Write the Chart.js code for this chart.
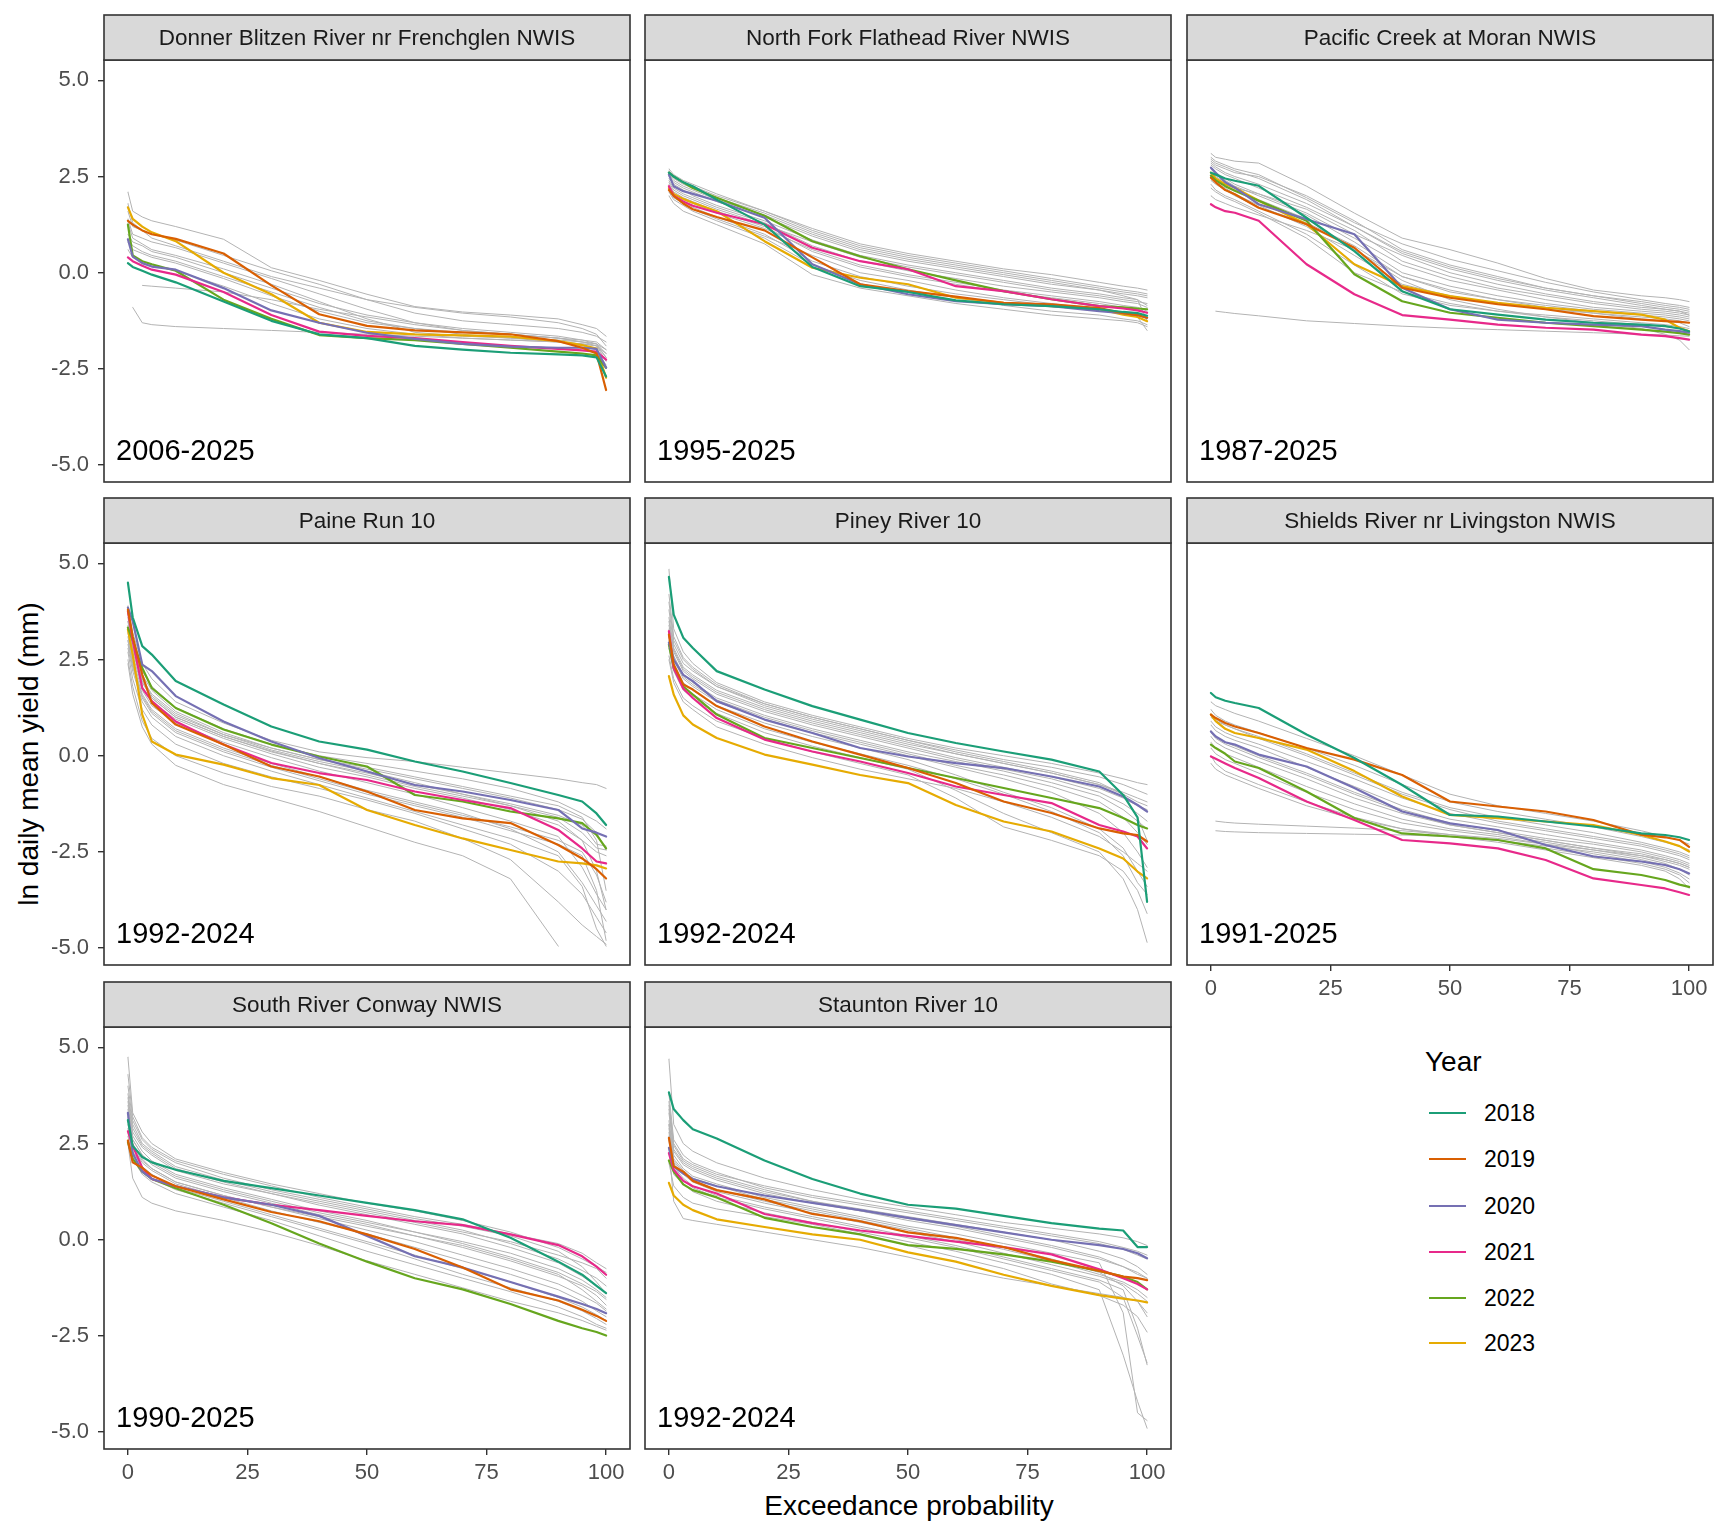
<!DOCTYPE html>
<html>
<head>
<meta charset="utf-8">
<title>Flow duration curves by site</title>
<script src="https://cdn.jsdelivr.net/npm/chart.js@4.4.1/dist/chart.umd.min.js"></script>
<style>
  html, body { margin: 0; padding: 0; background: #fff; }
  #figure { position: relative; width: 1728px; height: 1536px; background: #fff; overflow: hidden;
            font-family: 'Liberation Sans', Arial, sans-serif; }
  .panel { position: absolute; }
  .axis-title { position: absolute; font-size: 28px; color: #000; white-space: nowrap; line-height: 1; }
  #ytitle { left: 29px; top: 754px; transform: translate(-50%, -50%) rotate(-90deg); }
  #xtitle { left: 909px; top: 1506px; transform: translate(-50%, -50%); }
  .leg-title { position: absolute; font-size: 28px; color: #000; line-height: 1; transform: translateY(-50%); }
  .leg-key { position: absolute; height: 2px; width: 37px; }
  .leg-label { position: absolute; font-size: 23px; color: #000; line-height: 1; transform: translateY(-50%); }
</style>
</head>
<body>
<div id="figure">
  <div class="axis-title" id="ytitle">ln daily mean yield (mm)</div>
  <div class="axis-title" id="xtitle">Exceedance probability</div>
</div>
<script>
// x positions (exceedance probability, %) shared by every curve
const exceedance = [0, 1, 3, 5, 10, 20, 30, 40, 50, 60, 70, 80, 90, 95, 98, 100];
const years = ['2018', '2019', '2020', '2021', '2022', '2023'];
const yearColors = ['#1B9E77', '#D95F02', '#7570B3', '#E7298A', '#66A61E', '#E6AB02'];
const xTicks = [0, 25, 50, 75, 100];
const yTicks = [-5, -2.5, 0, 2.5, 5];

const siteNames = ['Donner Blitzen River nr Frenchglen NWIS', 'North Fork Flathead River NWIS', 'Pacific Creek at Moran NWIS',
  'Paine Run 10', 'Piney River 10', 'Shields River nr Livingston NWIS', 'South River Conway NWIS', 'Staunton River 10'];
const siteRanges = ['2006-2025', '1995-2025', '1987-2025', '1992-2024', '1992-2024', '1991-2025', '1990-2025', '1992-2024'];

// highlighted years, one row per year 2018..2023 (null = no record)
const donnerYears = [
  [0.25, 0.15, 0.05, -0.05, -0.25, -0.75, -1.25, -1.6, -1.7, -1.9, -2.0, -2.08, -2.12, -2.15, -2.2, -2.7],
  [1.35, 1.25, 1.1, 1.0, 0.88, 0.5, -0.33, -1.08, -1.38, -1.5, -1.55, -1.6, -1.78, -1.95, -2.1, -3.05],
  [0.87, 0.42, 0.25, 0.16, 0.08, -0.4, -0.98, -1.3, -1.56, -1.72, -1.85, -1.92, -1.95, -1.95, -1.98, -2.47],
  [0.4, 0.3, 0.18, 0.08, -0.05, -0.5, -1.1, -1.53, -1.64, -1.7, -1.8, -1.9, -1.98, -2.02, -2.05, -2.26],
  [1.25, 0.45, 0.3, 0.22, 0.05, -0.7, -1.2, -1.62, -1.7, -1.75, -1.85, -1.95, -2.05, -2.1, -2.15, -2.47],
  [1.7, 1.4, 1.2, 1.05, 0.82, 0.0, -0.56, -1.3, -1.54, -1.6, -1.63, -1.66, -1.78, -1.88, -1.97, -2.73]
];
const donnerOther = [
  [2.1, 1.6, 1.45, 1.35, 1.2, 0.87, 0.13, -0.2, -0.56, -0.88, -1.02, -1.1, -1.2, -1.35, -1.45, -1.65],
  [1.6, 1.2, 1.1, 1.0, 0.85, 0.45, 0.05, -0.3, -0.7, -1.05, -1.25, -1.35, -1.45, -1.55, -1.65, -1.8],
  [1.0, 0.8, 0.7, 0.55, 0.4, 0.0, -0.4, -0.8, -1.1, -1.3, -1.45, -1.55, -1.65, -1.75, -1.85, -2.1],
  [0.8, 0.6, 0.5, 0.4, 0.25, -0.15, -0.6, -1.0, -1.3, -1.45, -1.6, -1.7, -1.8, -1.85, -1.9, -2.3],
  [1.3, 0.9, 0.75, 0.6, 0.45, 0.1, -0.3, -0.75, -1.2, -1.55, -1.65, -1.7, -1.75, -1.8, -1.85, -2.2],
  [0.6, 0.4, 0.3, 0.2, 0.05, -0.35, -0.8, -1.2, -1.45, -1.6, -1.7, -1.75, -1.8, -1.9, -2.0, -2.4],
  [null, null, -0.33, -0.35, -0.4, -0.5, -0.7, -0.95, -1.15, -1.35, -1.5, -1.6, -1.7, -1.8, -1.85, -2.0],
  [null, -0.9, -1.3, -1.35, -1.4, -1.45, -1.5, -1.55, -1.6, -1.65, -1.7, -1.75, -1.8, -1.85, -1.9, -2.1],
  [1.8, 1.3, 1.1, 0.9, 0.7, 0.3, -0.1, -0.4, -0.7, -0.9, -1.05, -1.15, -1.3, -1.45, -1.6, -1.9],
  [1.4, 1.0, 0.9, 0.8, 0.65, 0.25, -0.15, -0.55, -0.95, -1.3, -1.5, -1.6, -1.7, -1.75, -1.8, -2.0],
  [0.9, 0.7, 0.55, 0.45, 0.3, -0.1, -0.5, -0.9, -1.25, -1.45, -1.55, -1.6, -1.7, -1.8, -1.9, -2.2]
];

const northForkYears = [
  [2.6, 2.5, 2.35, 2.25, 1.9, 1.25, 0.15, -0.35, -0.5, -0.72, -0.82, -0.87, -0.95, -1.02, -1.05, -1.12],
  [2.15, 2.0, 1.8, 1.65, 1.45, 1.1, 0.4, -0.3, -0.48, -0.62, -0.78, -0.82, -0.92, -1.05, -1.1, -1.17],
  [2.55, 2.25, 2.12, 2.05, 1.87, 1.43, 0.22, -0.3, -0.56, -0.74, -0.82, -0.87, -1.0, -1.05, -1.1, -1.17],
  [2.25, 2.0, 1.85, 1.74, 1.56, 1.26, 0.65, 0.3, 0.09, -0.35, -0.48, -0.69, -0.87, -0.93, -0.98, -1.04],
  [2.6, 2.5, 2.35, 2.2, 1.95, 1.48, 0.82, 0.43, 0.09, -0.2, -0.48, -0.69, -0.87, -0.9, -0.93, -0.95],
  [2.2, 2.05, 1.92, 1.82, 1.6, 0.82, 0.13, -0.13, -0.3, -0.65, -0.78, -0.87, -0.95, -1.09, -1.15, -1.26]
];
const northForkOther = [
  [2.7, 2.55, 2.4, 2.3, 2.05, 1.6, 1.15, 0.75, 0.5, 0.3, 0.1, -0.05, -0.25, -0.35, -0.4, -0.45],
  [2.5, 2.35, 2.2, 2.1, 1.85, 1.45, 0.95, 0.55, 0.3, 0.1, -0.1, -0.3, -0.45, -0.55, -0.6, -0.65],
  [2.4, 2.2, 2.05, 1.95, 1.7, 1.3, 0.7, 0.3, 0.05, -0.15, -0.35, -0.5, -0.65, -0.75, -0.8, -0.9],
  [2.3, 2.1, 1.95, 1.85, 1.6, 1.2, 0.55, 0.15, -0.1, -0.3, -0.5, -0.65, -0.8, -0.9, -0.95, -1.05],
  [2.2, 2.0, 1.85, 1.7, 1.45, 1.0, 0.3, -0.1, -0.35, -0.55, -0.7, -0.85, -0.95, -1.05, -1.1, -1.2],
  [2.0, 1.8, 1.6, 1.5, 1.25, 0.75, -0.05, -0.4, -0.6, -0.8, -0.95, -1.1, -1.2, -1.25, -1.3, -1.4],
  [2.6, 2.45, 2.3, 2.2, 1.95, 1.55, 1.05, 0.65, 0.4, 0.2, 0.0, -0.2, -0.4, -0.5, -0.55, -0.6],
  [2.15, 1.95, 1.8, 1.65, 1.4, 0.95, 0.45, 0.0, -0.2, -0.45, -0.65, -0.8, -0.95, -1.05, -1.15, -1.5],
  [2.35, 2.15, 2.0, 1.9, 1.65, 1.25, 0.8, 0.4, 0.15, -0.05, -0.25, -0.45, -0.6, -0.7, -0.75, -0.8],
  [2.45, 2.3, 2.15, 2.0, 1.75, 1.35, 0.85, 0.45, 0.2, 0.0, -0.2, -0.4, -0.55, -0.65, -0.7, -1.25],
  [2.55, 2.4, 2.25, 2.15, 1.9, 1.5, 1.0, 0.6, 0.35, 0.15, -0.05, -0.25, -0.45, -0.6, -0.7, -0.85],
  [2.25, 2.05, 1.9, 1.8, 1.55, 1.15, 0.6, 0.2, -0.05, -0.25, -0.45, -0.6, -0.75, -0.85, -0.9, -1.0],
  [2.1, 1.9, 1.75, 1.6, 1.35, 0.9, 0.2, -0.2, -0.45, -0.65, -0.85, -1.0, -1.1, -1.2, -1.25, -1.35],
  [2.65, 2.5, 2.35, 2.25, 2.0, 1.6, 1.1, 0.7, 0.45, 0.25, 0.05, -0.15, -0.35, -0.45, -0.5, -0.55]
];

const pacificYears = [
  [2.6, 2.55, 2.45, 2.39, 2.26, 1.43, 0.56, -0.48, -0.95, -1.09, -1.22, -1.3, -1.35, -1.39, -1.45, -1.52],
  [2.47, 2.35, 2.15, 2.04, 1.69, 1.26, 0.65, -0.39, -0.65, -0.82, -0.95, -1.13, -1.22, -1.26, -1.28, -1.3],
  [2.73, 2.6, 2.35, 2.21, 1.78, 1.39, 1.0, -0.39, -0.95, -1.22, -1.3, -1.35, -1.39, -1.48, -1.52, -1.56],
  [1.78, 1.7, 1.6, 1.56, 1.35, 0.22, -0.56, -1.1, -1.22, -1.35, -1.43, -1.48, -1.61, -1.65, -1.7, -1.74],
  [2.52, 2.4, 2.25, 2.13, 1.87, 1.35, -0.04, -0.74, -1.04, -1.17, -1.3, -1.39, -1.48, -1.53, -1.57, -1.61],
  [2.6, 2.45, 2.3, 2.21, 1.87, 1.26, 0.22, -0.35, -0.61, -0.78, -0.91, -1.0, -1.09, -1.22, -1.43, -1.52]
];
const pacificOther = [
  [3.1, 3.0, 2.95, 2.9, 2.85, 2.25, 1.55, 0.9, 0.6, 0.25, -0.15, -0.45, -0.6, -0.65, -0.7, -0.75],
  [2.9, 2.8, 2.7, 2.6, 2.5, 2.0, 1.35, 0.6, 0.2, -0.1, -0.4, -0.6, -0.8, -0.9, -0.95, -1.0],
  [2.8, 2.7, 2.55, 2.45, 2.2, 1.7, 1.1, 0.3, -0.1, -0.4, -0.6, -0.8, -0.95, -1.0, -1.05, -1.1],
  [2.7, 2.55, 2.4, 2.25, 2.0, 1.5, 0.8, 0.0, -0.35, -0.6, -0.8, -0.95, -1.05, -1.1, -1.15, -1.2],
  [2.5, 2.35, 2.2, 2.05, 1.75, 1.2, 0.45, -0.3, -0.6, -0.8, -0.95, -1.05, -1.15, -1.2, -1.25, -1.3],
  [2.3, 2.15, 2.0, 1.9, 1.6, 1.0, 0.2, -0.55, -0.85, -1.0, -1.1, -1.2, -1.3, -1.35, -1.4, -1.45],
  [2.0, 1.9, 1.8, 1.7, 1.5, 1.1, 0.6, -0.2, -0.7, -0.95, -1.15, -1.3, -1.45, -1.6, -1.75, -2.0],
  [null, -1.0, -1.03, -1.06, -1.12, -1.25, -1.32, -1.39, -1.44, -1.48, -1.52, -1.56, -1.6, -1.62, -1.64, -1.65],
  [2.6, 2.5, 2.35, 2.2, 2.05, 1.65, 1.0, 0.45, 0.0, -0.3, -0.55, -0.75, -0.9, -0.95, -1.0, -1.1],
  [2.2, 2.1, 1.95, 1.85, 1.55, 0.9, 0.0, -0.5, -0.8, -1.0, -1.15, -1.25, -1.35, -1.4, -1.45, -1.55],
  [3.0, 2.9, 2.8, 2.7, 2.55, 1.95, 1.3, 0.75, 0.35, 0.05, -0.25, -0.5, -0.7, -0.8, -0.85, -0.9],
  [2.75, 2.6, 2.45, 2.3, 2.05, 1.55, 0.9, 0.2, -0.2, -0.45, -0.7, -0.9, -1.0, -1.05, -1.1, -1.15],
  [2.4, 2.3, 2.15, 2.0, 1.7, 1.3, 0.7, -0.1, -0.5, -0.7, -0.85, -1.0, -1.1, -1.15, -1.2, -1.25],
  [2.85, 2.75, 2.6, 2.5, 2.3, 1.8, 1.2, 0.5, 0.1, -0.2, -0.45, -0.65, -0.85, -0.95, -1.0, -1.05],
  [2.55, 2.4, 2.25, 2.15, 1.9, 1.4, 0.6, -0.1, -0.45, -0.7, -0.9, -1.05, -1.2, -1.25, -1.3, -1.4],
  [2.95, 2.85, 2.75, 2.65, 2.45, 1.9, 1.2, 0.55, 0.15, -0.15, -0.4, -0.6, -0.75, -0.85, -0.9, -0.95]
];

const paineYears = [
  [4.5, 3.6, 2.85, 2.63, 1.94, 1.33, 0.76, 0.37, 0.16, -0.15, -0.41, -0.71, -1.02, -1.19, -1.5, -1.8],
  [3.8, 3.1, 2.11, 1.37, 0.81, 0.29, -0.28, -0.54, -0.93, -1.41, -1.63, -1.75, -2.32, -2.67, -2.95, -3.19],
  [3.85, 3.5, 2.37, 2.2, 1.55, 0.89, 0.37, -0.06, -0.41, -0.76, -0.93, -1.15, -1.41, -1.89, -2.0, -2.1],
  [3.76, 3.0, 1.76, 1.42, 0.89, 0.29, -0.19, -0.45, -0.63, -0.93, -1.15, -1.36, -1.93, -2.41, -2.75, -2.8],
  [3.33, 3.0, 2.28, 1.76, 1.24, 0.68, 0.29, -0.02, -0.28, -1.02, -1.19, -1.45, -1.63, -1.75, -2.06, -2.41],
  [3.28, 2.63, 1.07, 0.37, 0.03, -0.23, -0.58, -0.76, -1.41, -1.8, -2.15, -2.45, -2.75, -2.8, -2.85, -2.93]
];
const paineOther = [
  [3.9, 3.2, 2.4, 2.0, 1.4, 0.85, 0.4, 0.1, -0.05, -0.15, -0.3, -0.45, -0.6, -0.7, -0.75, -0.85],
  [3.5, 2.9, 2.2, 1.8, 1.25, 0.7, 0.3, 0.0, -0.2, -0.4, -0.6, -0.85, -1.2, -1.5, -1.7, -1.9],
  [3.2, 2.6, 1.8, 1.4, 0.95, 0.45, 0.05, -0.3, -0.55, -0.85, -1.1, -1.4, -1.8, -2.2, -2.5, -2.6],
  [3.0, 2.4, 1.6, 1.2, 0.7, 0.2, -0.2, -0.55, -0.9, -1.2, -1.5, -1.9, -2.5, -3.3, -3.9, -4.3],
  [2.7, 2.0, 1.2, 0.8, 0.3, -0.2, -0.55, -0.85, -1.15, -1.5, -1.9, -2.3, -3.0, -3.6, -4.2, -4.6],
  [2.5, 1.8, 0.9, 0.45, 0.0, -0.45, -0.8, -1.05, -1.4, -1.7, -2.15, -2.7, -3.8, -4.4, -4.7, -4.9],
  [2.4, 1.6, 0.75, 0.3, -0.25, -0.75, -1.1, -1.45, -1.85, -2.25, -2.6, -3.2, -4.95, null, null, null],
  [3.6, 2.9, 2.0, 1.6, 1.1, 0.55, 0.15, -0.15, -0.4, -0.7, -1.0, -1.3, -1.7, -2.2, -3.0, -4.0],
  [3.3, 2.7, 1.9, 1.5, 1.0, 0.5, 0.1, -0.2, -0.5, -0.8, -1.05, -1.3, -1.6, -2.0, -2.4, -2.45],
  [2.9, 2.3, 1.5, 1.1, 0.6, 0.1, -0.3, -0.65, -1.0, -1.3, -1.6, -1.95, -2.3, -2.6, -3.5, -4.8],
  [3.4, 2.8, 2.0, 1.55, 1.05, 0.55, 0.2, -0.1, -0.35, -0.6, -0.85, -1.1, -1.4, -1.65, -2.0, -2.45],
  [3.1, 2.5, 1.7, 1.3, 0.85, 0.35, -0.05, -0.4, -0.7, -1.0, -1.35, -1.7, -2.1, -2.9, -3.6, -4.0],
  [3.7, 3.0, 2.1, 1.7, 1.15, 0.6, 0.2, -0.1, -0.3, -0.55, -0.8, -1.05, -1.3, -1.6, -2.2, -3.5],
  [2.8, 2.2, 1.4, 1.0, 0.5, 0.0, -0.4, -0.75, -1.1, -1.45, -1.8, -2.15, -2.6, -3.4, -4.5, -4.95],
  [3.5, 2.8, 1.95, 1.5, 1.0, 0.5, 0.12, -0.2, -0.45, -0.75, -1.0, -1.25, -1.55, -1.8, -2.3, -2.35],
  [3.0, 2.35, 1.55, 1.15, 0.65, 0.15, -0.25, -0.6, -0.95, -1.25, -1.55, -1.85, -2.2, -2.5, -3.1, -3.8]
];

const pineyYears = [
  [4.65, 3.67, 3.07, 2.8, 2.2, 1.72, 1.29, 0.94, 0.59, 0.33, 0.11, -0.1, -0.41, -1.02, -1.6, -3.8],
  [3.15, 2.37, 1.85, 1.72, 1.29, 0.76, 0.37, 0.03, -0.32, -0.71, -1.19, -1.49, -1.89, -2.02, -2.06, -2.23],
  [2.94, 2.5, 2.1, 1.94, 1.42, 0.94, 0.59, 0.2, -0.02, -0.19, -0.32, -0.54, -0.8, -1.06, -1.28, -1.45],
  [3.24, 2.28, 1.75, 1.5, 0.98, 0.42, 0.11, -0.15, -0.45, -0.8, -1.02, -1.23, -1.8, -1.97, -2.1, -2.41],
  [2.89, 2.28, 1.8, 1.59, 1.07, 0.46, 0.2, -0.06, -0.32, -0.58, -0.84, -1.1, -1.36, -1.62, -1.8, -1.89],
  [2.07, 1.59, 1.05, 0.81, 0.46, 0.03, -0.23, -0.5, -0.71, -1.28, -1.71, -1.97, -2.41, -2.67, -3.01, -3.19]
];
const pineyOther = [
  [4.85, 3.3, 2.7, 2.4, 1.9, 1.4, 1.05, 0.75, 0.45, 0.2, 0.0, -0.2, -0.45, -0.6, -0.7, -0.75],
  [3.6, 2.8, 2.3, 2.1, 1.7, 1.25, 0.9, 0.6, 0.3, 0.05, -0.2, -0.45, -0.75, -1.0, -1.2, -1.3],
  [3.3, 2.6, 2.1, 1.9, 1.5, 1.05, 0.7, 0.4, 0.1, -0.15, -0.4, -0.7, -1.05, -1.4, -1.7, -1.9],
  [3.0, 2.4, 1.9, 1.7, 1.3, 0.85, 0.5, 0.2, -0.1, -0.5, -0.95, -1.35, -1.9, -2.4, -3.0, -3.4],
  [2.8, 2.2, 1.7, 1.5, 1.1, 0.6, 0.25, -0.05, -0.35, -0.9, -1.5, -2.0, -2.5, -3.2, -4.0, -4.85],
  [2.6, 2.0, 1.5, 1.3, 0.9, 0.45, 0.1, -0.2, -0.5, -1.1, -1.85, -2.2, -2.6, -3.0, -3.5, -4.1],
  [3.8, 2.9, 2.4, 2.2, 1.8, 1.35, 1.0, 0.7, 0.4, 0.15, -0.1, -0.3, -0.55, -0.75, -0.9, -1.0],
  [3.4, 2.7, 2.2, 2.0, 1.6, 1.15, 0.8, 0.5, 0.2, -0.1, -0.35, -0.6, -0.95, -1.25, -1.5, -1.7],
  [2.5, 1.9, 1.4, 1.2, 0.75, 0.3, -0.05, -0.35, -0.6, -0.85, -1.2, -1.6, -2.1, -2.5, -2.8, -3.0],
  [4.2, 3.1, 2.55, 2.3, 1.85, 1.35, 1.0, 0.7, 0.4, 0.1, -0.15, -0.4, -0.7, -1.0, -1.6, -2.2],
  [3.1, 2.5, 2.0, 1.8, 1.4, 0.95, 0.6, 0.3, 0.0, -0.3, -0.6, -0.95, -1.5, -2.0, -2.5, -2.9],
  [3.5, 2.75, 2.25, 2.05, 1.65, 1.2, 0.85, 0.55, 0.25, -0.05, -0.3, -0.55, -0.85, -1.1, -1.3, -1.4],
  [3.2, 2.55, 2.05, 1.85, 1.45, 1.0, 0.65, 0.35, 0.05, -0.25, -0.5, -0.8, -1.2, -1.6, -2.0, -2.3],
  [2.9, 2.3, 1.8, 1.6, 1.2, 0.7, 0.35, 0.05, -0.25, -0.6, -1.0, -1.45, -2.0, -2.6, -3.3, -3.6],
  [4.0, 3.0, 2.5, 2.25, 1.8, 1.3, 0.95, 0.65, 0.35, 0.05, -0.2, -0.45, -0.75, -0.95, -1.1, -1.2]
];

const shieldsYears = [
  [1.63, 1.52, 1.43, 1.37, 1.24, 0.55, -0.06, -0.76, -1.54, -1.58, -1.71, -1.84, -2.02, -2.06, -2.12, -2.19],
  [1.07, 0.98, 0.85, 0.76, 0.59, 0.2, -0.1, -0.5, -1.19, -1.32, -1.45, -1.67, -2.05, -2.12, -2.19, -2.37],
  [0.63, 0.5, 0.35, 0.29, 0.03, -0.28, -0.84, -1.45, -1.76, -1.93, -2.32, -2.62, -2.75, -2.84, -2.95, -3.06],
  [-0.02, -0.08, -0.2, -0.32, -0.58, -1.19, -1.67, -2.19, -2.28, -2.41, -2.71, -3.19, -3.36, -3.45, -3.55, -3.62],
  [0.29, 0.2, 0.05, -0.15, -0.32, -0.93, -1.62, -2.02, -2.1, -2.19, -2.41, -2.95, -3.1, -3.23, -3.35, -3.41],
  [1.07, 0.9, 0.7, 0.59, 0.46, 0.16, -0.4, -1.06, -1.54, -1.62, -1.71, -1.8, -2.06, -2.23, -2.35, -2.49]
];
const shieldsOther = [
  [1.4, 1.3, 1.2, 1.1, 0.9, 0.45, 0.0, -0.5, -1.0, -1.3, -1.5, -1.7, -1.95, -2.1, -2.2, -2.3],
  [1.0, 0.9, 0.8, 0.7, 0.5, 0.05, -0.45, -0.95, -1.35, -1.6, -1.8, -2.0, -2.25, -2.4, -2.5, -2.6],
  [0.8, 0.65, 0.5, 0.4, 0.2, -0.3, -0.8, -1.3, -1.65, -1.85, -2.05, -2.25, -2.45, -2.6, -2.7, -2.8],
  [0.5, 0.35, 0.2, 0.1, -0.15, -0.6, -1.1, -1.5, -1.8, -2.0, -2.2, -2.4, -2.6, -2.75, -2.85, -2.95],
  [0.2, 0.05, -0.1, -0.2, -0.45, -0.95, -1.4, -1.75, -1.95, -2.1, -2.3, -2.55, -2.75, -2.9, -3.05, -3.2],
  [null, -1.7, -1.73, -1.75, -1.78, -1.83, -1.88, -1.95, -2.05, -2.15, -2.3, -2.45, -2.6, -2.7, -2.8, -2.9],
  [null, -1.95, -1.97, -1.98, -2.0, -2.02, -2.04, -2.06, -2.1, -2.2, -2.35, -2.5, -2.7, -2.85, -2.95, -3.05],
  [0.0, -0.2, -0.4, -0.5, -0.75, -1.2, -1.6, -1.9, -2.1, -2.25, -2.45, -2.65, -2.85, -3.0, -3.2, -3.45],
  [1.2, 1.05, 0.9, 0.8, 0.6, 0.2, -0.25, -0.75, -1.2, -1.45, -1.65, -1.85, -2.1, -2.25, -2.35, -2.45],
  [0.65, 0.5, 0.35, 0.25, 0.0, -0.45, -0.95, -1.4, -1.75, -1.95, -2.15, -2.3, -2.5, -2.65, -2.75, -2.85],
  [-0.2, -0.35, -0.5, -0.6, -0.85, -1.3, -1.65, -1.9, -2.05, -2.2, -2.4, -2.6, -2.8, -2.95, -3.1, -3.3],
  [0.9, 0.75, 0.6, 0.5, 0.3, -0.15, -0.6, -1.1, -1.5, -1.75, -1.95, -2.15, -2.35, -2.5, -2.6, -2.7],
  [0.35, 0.2, 0.05, -0.05, -0.3, -0.8, -1.25, -1.65, -1.9, -2.05, -2.25, -2.45, -2.65, -2.8, -2.95, -3.1],
  [1.1, 0.95, 0.8, 0.7, 0.45, 0.0, -0.5, -1.0, -1.4, -1.7, -1.9, -2.1, -2.3, -2.45, -2.55, -2.65],
  [0.6, 0.45, 0.3, 0.2, -0.05, -0.5, -1.0, -1.45, -1.8, -2.0, -2.2, -2.4, -2.55, -2.7, -2.8, -2.9]
];

const southYears = [
  [3.11, 2.44, 2.15, 2.01, 1.82, 1.53, 1.34, 1.15, 0.96, 0.77, 0.53, 0.05, -0.57, -0.91, -1.2, -1.39],
  [2.58, 2.01, 1.87, 1.67, 1.39, 1.05, 0.72, 0.48, 0.14, -0.24, -0.72, -1.29, -1.58, -1.82, -1.98, -2.11],
  [3.3, 2.25, 1.77, 1.58, 1.39, 1.1, 0.91, 0.62, 0.1, -0.43, -0.72, -1.1, -1.48, -1.67, -1.8, -1.91],
  [2.82, 2.44, 1.87, 1.58, 1.39, 1.1, 0.91, 0.77, 0.62, 0.48, 0.38, 0.14, -0.14, -0.43, -0.7, -0.91],
  [2.54, 2.11, 1.77, 1.58, 1.34, 0.91, 0.43, -0.1, -0.57, -1.0, -1.29, -1.67, -2.11, -2.3, -2.4, -2.49],
  null
];
const southOther = [
  [4.75, 3.3, 2.8, 2.5, 2.1, 1.75, 1.45, 1.2, 0.95, 0.75, 0.5, 0.2, -0.2, -0.5, -0.7, -0.85],
  [3.8, 3.0, 2.5, 2.3, 1.9, 1.55, 1.25, 1.0, 0.75, 0.5, 0.25, -0.1, -0.5, -0.8, -1.0, -1.2],
  [3.5, 2.7, 2.3, 2.05, 1.7, 1.35, 1.05, 0.75, 0.5, 0.2, -0.1, -0.45, -0.85, -1.15, -1.35, -1.55],
  [3.2, 2.5, 2.1, 1.85, 1.5, 1.15, 0.85, 0.55, 0.25, -0.05, -0.4, -0.75, -1.15, -1.45, -1.65, -1.85],
  [2.9, 2.3, 1.9, 1.7, 1.35, 1.0, 0.65, 0.3, -0.05, -0.4, -0.75, -1.1, -1.5, -1.75, -1.95, -2.1],
  [2.5, 1.6, 1.1, 0.95, 0.75, 0.5, 0.2, -0.15, -0.55, -0.9, -1.25, -1.6, -1.9, -2.1, -2.25, -2.35],
  [3.6, 2.8, 2.4, 2.2, 1.8, 1.45, 1.2, 0.95, 0.7, 0.45, 0.2, -0.05, -0.4, -0.6, -0.75, -1.0],
  [3.0, 2.4, 2.0, 1.8, 1.45, 1.1, 0.75, 0.45, 0.15, -0.2, -0.55, -0.9, -1.3, -1.6, -1.85, -2.0],
  [4.0, 3.1, 2.6, 2.35, 2.0, 1.6, 1.3, 1.05, 0.8, 0.55, 0.35, 0.1, -0.3, -0.7, -1.1, -1.4],
  [2.7, 2.1, 1.7, 1.5, 1.2, 0.85, 0.5, 0.1, -0.3, -0.65, -1.0, -1.35, -1.75, -2.0, -2.2, -2.3],
  [3.4, 2.6, 2.2, 1.95, 1.6, 1.25, 0.95, 0.65, 0.4, 0.1, -0.2, -0.55, -0.95, -1.2, -1.45, -1.7],
  [3.3, 2.6, 2.2, 2.0, 1.65, 1.3, 1.0, 0.7, 0.45, 0.2, -0.05, -0.35, -0.75, -1.05, -1.3, -1.5],
  [3.1, 2.45, 2.05, 1.85, 1.5, 1.15, 0.85, 0.6, 0.35, 0.1, -0.15, -0.5, -0.9, -1.3, -1.6, -1.8],
  [3.7, 2.9, 2.45, 2.25, 1.85, 1.5, 1.2, 0.9, 0.65, 0.4, 0.15, -0.2, -0.6, -0.95, -1.2, -1.4],
  [2.8, 2.2, 1.8, 1.6, 1.3, 0.95, 0.6, 0.25, -0.1, -0.5, -0.9, -1.25, -1.6, -1.85, -2.05, -2.2],
  [4.3, 3.2, 2.65, 2.4, 2.05, 1.7, 1.4, 1.1, 0.85, 0.6, 0.4, 0.15, -0.1, -0.35, -0.6, -0.75]
];

const stauntonYears = [
  [3.83, 3.4, 3.11, 2.87, 2.63, 2.06, 1.58, 1.2, 0.91, 0.81, 0.62, 0.43, 0.29, 0.24, -0.19, -0.19],
  [2.65, 1.91, 1.77, 1.53, 1.29, 1.05, 0.67, 0.48, 0.19, 0.05, -0.19, -0.53, -0.81, -0.96, -1.0, -1.05],
  [2.39, 1.91, 1.72, 1.58, 1.39, 1.15, 0.96, 0.77, 0.57, 0.38, 0.19, 0.0, -0.14, -0.24, -0.35, -0.48],
  [2.25, 1.82, 1.53, 1.39, 1.2, 0.67, 0.43, 0.24, 0.1, -0.05, -0.19, -0.38, -0.77, -1.0, -1.15, -1.29],
  [2.06, 1.77, 1.44, 1.29, 1.1, 0.57, 0.33, 0.14, -0.14, -0.24, -0.38, -0.57, -0.81, -0.96, -1.1, -1.29],
  [1.48, 1.15, 0.91, 0.77, 0.53, 0.33, 0.14, 0.0, -0.33, -0.57, -0.91, -1.2, -1.44, -1.53, -1.58, -1.63]
];
const stauntonOther = [
  [4.7, 3.0, 2.5, 2.3, 2.0, 1.6, 1.3, 1.05, 0.85, 0.65, 0.45, 0.3, 0.15, 0.05, -0.05, -0.15],
  [3.8, 2.6, 2.2, 2.0, 1.75, 1.35, 1.1, 0.9, 0.7, 0.5, 0.3, 0.1, -0.1, -0.25, -0.4, -0.5],
  [3.3, 2.3, 1.95, 1.8, 1.55, 1.2, 0.95, 0.75, 0.55, 0.35, 0.1, -0.15, -0.45, -0.7, -0.9, -1.0],
  [3.0, 2.1, 1.8, 1.6, 1.4, 1.05, 0.8, 0.55, 0.3, 0.05, -0.2, -0.5, -0.85, -1.2, -1.6, -2.0],
  [2.8, 1.9, 1.6, 1.4, 1.15, 0.85, 0.6, 0.35, 0.1, -0.15, -0.45, -0.75, -1.05, -1.3, -2.3, -3.25],
  [2.6, 1.7, 1.45, 1.25, 1.0, 0.7, 0.45, 0.2, -0.05, -0.3, -0.6, -0.9, -1.3, -3.0, -4.2, -4.9],
  [2.0, 1.4, 1.1, 0.95, 0.8, 0.6, 0.4, 0.15, -0.15, -0.45, -0.75, -1.15, -1.45, -1.7, -2.0, -2.4],
  [2.4, 1.0, 0.55, 0.5, 0.4, 0.2, 0.0, -0.2, -0.45, -0.75, -1.0, -1.2, -1.4, -1.5, -1.6, -1.9],
  [3.5, 2.45, 2.05, 1.9, 1.65, 1.3, 1.0, 0.8, 0.6, 0.4, 0.2, 0.0, -0.3, -0.5, -0.7, -0.9],
  [2.9, 2.0, 1.7, 1.5, 1.25, 0.95, 0.7, 0.45, 0.2, -0.05, -0.35, -0.65, -0.95, -1.15, -1.4, -1.6],
  [3.1, 2.2, 1.85, 1.65, 1.45, 1.1, 0.85, 0.6, 0.35, 0.15, -0.1, -0.35, -0.6, -1.9, -4.5, -4.7],
  [3.4, 2.35, 2.0, 1.85, 1.6, 1.25, 1.0, 0.75, 0.5, 0.3, 0.05, -0.2, -0.5, -0.7, -0.85, -1.0],
  [3.0, 2.05, 1.75, 1.55, 1.3, 1.0, 0.75, 0.5, 0.25, 0.0, -0.25, -0.55, -0.9, -1.1, -1.3, -1.5],
  [2.7, 1.85, 1.55, 1.35, 1.1, 0.8, 0.55, 0.3, 0.05, -0.2, -0.5, -0.8, -1.1, -1.5, -2.5, -3.2],
  [3.6, 2.5, 2.1, 1.95, 1.7, 1.4, 1.15, 0.95, 0.75, 0.55, 0.35, 0.15, -0.05, -0.2, -0.3, -0.4]
];

const siteYears = [donnerYears, northForkYears, pacificYears, paineYears, pineyYears, shieldsYears, southYears, stauntonYears];
const siteOther = [donnerOther, northForkOther, pacificOther, paineOther, pineyOther, shieldsOther, southOther, stauntonOther];

// facet grid geometry (page pixels)
const colLeft = [104, 645, 1187];
const rowTop = [60, 543, 1027];
const plotW = 526, plotH = 422, stripH = 45;
const panelCol = [0, 1, 2, 0, 1, 2, 0, 1];
const panelRow = [0, 0, 0, 1, 1, 1, 2, 2];
const withXAxis = [false, false, false, false, false, true, true, true];

const FONT = "'Liberation Sans', Arial, sans-serif";
Chart.defaults.font.family = FONT;

const facetPlugin = {
  id: 'facet',
  afterDatasetsDraw(chart, args, opts) {
    const ctx = chart.ctx;
    const a = chart.chartArea;
    const w = a.right - a.left;
    ctx.save();
    // record period label
    ctx.fillStyle = '#000';
    ctx.font = '29px ' + FONT;
    ctx.textAlign = 'left';
    ctx.textBaseline = 'middle';
    ctx.fillText(opts.range, a.left + 12, a.bottom - 30);
    // panel border
    ctx.strokeStyle = '#333333';
    ctx.lineWidth = 1.6;
    ctx.strokeRect(a.left, a.top, w, a.bottom - a.top);
    // strip
    ctx.fillStyle = '#D9D9D9';
    ctx.fillRect(a.left, a.top - stripH, w, stripH);
    ctx.strokeRect(a.left, a.top - stripH, w, stripH);
    ctx.fillStyle = '#1A1A1A';
    ctx.font = '22.5px ' + FONT;
    ctx.textAlign = 'center';
    ctx.fillText(opts.title, a.left + w / 2, a.top - stripH / 2 + 1);
    ctx.restore();
  }
};

function toPoints(values) {
  return values.map((v, i) => ({ x: exceedance[i], y: v }));
}

const fig = document.getElementById('figure');

siteNames.forEach((name, p) => {
  const showY = panelCol[p] === 0;
  const showX = withXAxis[p];
  const yW = showY ? 100 : 0;
  const xH = showX ? 58 : 0;
  const padL = showY ? 0 : 2;
  // keep room below so the y labels never push the plot area up
  const padB = showX ? 0 : 28;

  const box = document.createElement('div');
  box.className = 'panel';
  box.style.left = (colLeft[panelCol[p]] - yW - padL) + 'px';
  box.style.top = (rowTop[panelRow[p]] - 47) + 'px';
  box.style.width = (yW + padL + plotW + 2) + 'px';
  box.style.height = (47 + plotH + xH + padB) + 'px';
  const canvas = document.createElement('canvas');
  box.appendChild(canvas);
  fig.appendChild(box);

  const datasets = [];
  siteYears[p].forEach((vals, k) => {
    if (!vals) return;
    datasets.push({ label: years[k], data: toPoints(vals), borderColor: yearColors[k], borderWidth: 2.2, order: 0 });
  });
  siteOther[p].forEach(vals => {
    datasets.push({ label: 'other years', data: toPoints(vals), borderColor: '#B3B3B3', borderWidth: 1, order: 1 });
  });

  new Chart(canvas, {
    type: 'line',
    data: { datasets: datasets },
    options: {
      animation: false,
      responsive: true,
      maintainAspectRatio: false,
      layout: { autoPadding: false, padding: { top: 47, right: 2, bottom: padB, left: padL } },
      elements: {
        point: { radius: 0 },
        line: { tension: 0, borderJoinStyle: 'round', borderCapStyle: 'round', fill: false }
      },
      plugins: {
        legend: { display: false },
        tooltip: { enabled: false },
        facet: { title: name, range: siteRanges[p] }
      },
      scales: {
        x: {
          type: 'linear', min: -5, max: 105, display: showX,
          afterBuildTicks: s => { s.ticks = xTicks.map(v => ({ value: v })); },
          afterFit: s => { s.height = xH; },
          border: { display: false },
          grid: { display: true, drawOnChartArea: false, drawTicks: true, tickLength: 6, color: '#333333', lineWidth: 1.4 },
          ticks: { color: '#4D4D4D', font: { size: 22 }, padding: 5, maxRotation: 0, callback: v => String(v) }
        },
        y: {
          type: 'linear', min: -5.44, max: 5.53, display: showY,
          afterBuildTicks: s => { s.ticks = yTicks.map(v => ({ value: v })); },
          afterFit: s => { s.width = yW; },
          border: { display: false },
          grid: { display: true, drawOnChartArea: false, drawTicks: true, tickLength: 6, color: '#333333', lineWidth: 1.4 },
          ticks: { color: '#4D4D4D', font: { size: 22 }, padding: 9, callback: v => v.toFixed(1) }
        }
      }
    },
    plugins: [facetPlugin]
  });
});

// legend for highlighted years
const legTitle = document.createElement('div');
legTitle.className = 'leg-title';
legTitle.style.left = '1425px';
legTitle.style.top = '1062px';
legTitle.textContent = 'Year';
fig.appendChild(legTitle);
const legRowY = [1113, 1159, 1206, 1252, 1298, 1343];
years.forEach((yr, k) => {
  const key = document.createElement('div');
  key.className = 'leg-key';
  key.style.left = '1429px';
  key.style.top = (legRowY[k] - 1) + 'px';
  key.style.background = yearColors[k];
  fig.appendChild(key);
  const lab = document.createElement('div');
  lab.className = 'leg-label';
  lab.style.left = '1484px';
  lab.style.top = legRowY[k] + 'px';
  lab.textContent = yr;
  fig.appendChild(lab);
});
</script>
</body>
</html>
